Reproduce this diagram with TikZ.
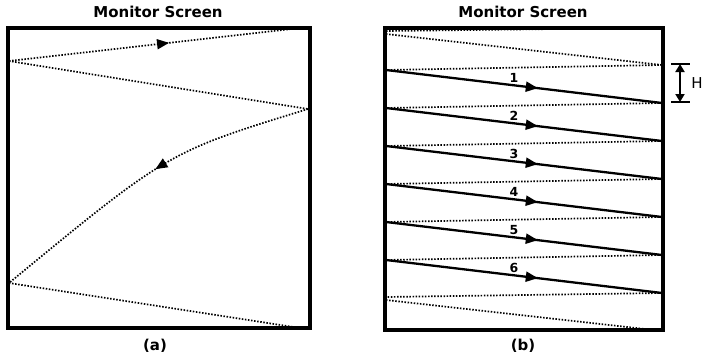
\documentclass[tikz,border=0pt]{standalone}
\usepackage{fontspec}
\setmainfont{DejaVu Sans}
\usetikzlibrary{arrows.meta,decorations.markings}

\begin{document}
\begin{tikzpicture}[x=1pt, y=-1pt,
    screen/.style={line width=3.4pt},
    dotline/.style={line width=1.7pt, dash pattern=on 1.5pt off 1.6pt},
    scanline/.style={line width=2.3pt},
    midarrow/.style={postaction={decorate}, decoration={markings,
        mark=at position #1 with {\arrow{Triangle[length=12pt,width=10pt]}}}},
    titletext/.style={font=\bfseries\fontsize{15}{15}\selectfont},
    numtext/.style={font=\bfseries\fontsize{12.5}{13}\selectfont}]

    \useasboundingbox (0,0) rectangle (702,359);

    % Panel (a) - vertical retrace
    \begin{scope}
        \coordinate (aTL) at (8,28);
        \coordinate (aBR) at (310,328);
        \draw[screen] (aTL) rectangle (aBR);
        \node[titletext] (titleA) at (158,12) {Monitor Screen};
        \node[titletext] (capA) at (155,346) {(a)};
        \coordinate (a1) at (300,28);
        \coordinate (a2) at (9,61);
        \coordinate (a3) at (308,109);
        \coordinate (a4) at (9,283);
        \coordinate (a5) at (300,328);
        \draw[dotline, midarrow=0.55] (a2) -- (a1);
        \draw[dotline] (a2) -- (a3);
        \draw[dotline, midarrow=0.47] (a3) .. controls (168,152) .. (a4);
        \draw[dotline] (a4) -- (a5);
    \end{scope}

    % Panel (b) - interlaced scan lines
    \begin{scope}
        \coordinate (bTL) at (385,28);
        \coordinate (bBR) at (663,330);
        \draw[screen] (bTL) rectangle (bBR);
        \node[titletext] (titleB) at (523,12) {Monitor Screen};
        \node[titletext] (capB) at (523,346) {(b)};
        % top of the field
        \draw[dotline] (386,31) -- (640,28);
        \coordinate (t1) at (386,34);
        \coordinate (t2) at (662,65);
        \draw[dotline] (t1) -- (t2);
        % scan lines with their retraces
        \foreach \i in {1,...,6} {
            \coordinate (L\i) at (386,{70+38*(\i-1)});
            \coordinate (R\i) at (662,{103+38*(\i-1)});
            \draw[scanline, midarrow=0.55] (L\i) -- (R\i);
            \node[numtext] (n\i) at (514,{78+38*(\i-1)}) {\i};
        }
        \draw[dotline] (t2) -- (L1);
        \foreach \i [evaluate=\i as \j using int(\i+1)] in {1,...,5}
            \draw[dotline] (R\i) -- (L\j);
        \coordinate (e1) at (386,297);
        \coordinate (e2) at (386,300);
        \coordinate (e3) at (645,329);
        \draw[dotline] (R6) -- (e1);
        \draw[dotline] (e2) -- (e3);
        % line spacing H
        \coordinate (h1) at (680,64);
        \coordinate (h2) at (680,102);
        \draw[line width=1.8pt] (671,64) -- (690,64);
        \draw[line width=1.8pt] (671,102) -- (690,102);
        \draw[line width=1.8pt, {Triangle[length=8pt,width=9pt]}-{Triangle[length=8pt,width=9pt]}] (h1) -- (h2);
        \node[font=\fontsize{15}{15}\selectfont] (hlabel) at (697,83) {H};
    \end{scope}

\end{tikzpicture}
\end{document}
